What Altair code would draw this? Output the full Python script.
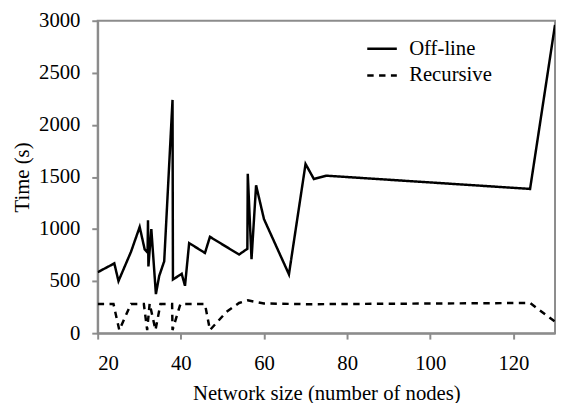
import altair as alt
import pandas as pd

# Off-line series (network size, time in s)
offline_x = [20, 24, 25, 28, 30.1, 31.3, 32.0, 32.1, 32.2, 32.9, 34.0, 34.8, 36.0, 38.0, 38.1,
             40.2, 41.0, 42.0, 45.8, 47.0, 54.0, 56.0, 56.1, 57.0, 58.1, 60.0, 66.0, 70.0,
             72.0, 75.0, 124.0, 130.0]
offline_y = [585, 670, 500, 780, 1020, 805, 775, 1085, 640, 1000, 375, 550, 690, 2240, 515,
             570, 455, 865, 770, 925, 755, 810, 1530, 710, 1420, 1095, 565, 1625,
             1480, 1512, 1385, 2960]

# Recursive series
rec_x = [20, 23.8, 25.2, 28.0, 31.1, 31.9, 32.5, 33.9, 35.1, 37.9, 38.0, 39.9, 45.8, 47.0,
         51.0, 54.0, 56.1, 58.0, 60.0, 70.6, 124.0, 130.0]
rec_y = [280, 280, 30, 280, 280, 30, 285, 30, 280, 280, 30, 280, 280, 30,
         205, 290, 315, 300, 285, 278, 290, 110]

series_names = ["Off-line", "Recursive"]
x_ticks = [20, 40, 60, 80, 100, 120]
y_ticks = [0, 500, 1000, 1500, 2000, 2500, 3000]

rows = []
for i, (x, y) in enumerate(zip(offline_x, offline_y)):
    rows.append({"x": x, "y": y, "series": series_names[0], "order": i})
for i, (x, y) in enumerate(zip(rec_x, rec_y)):
    rows.append({"x": x, "y": y, "series": series_names[1], "order": i})
df = pd.DataFrame(rows)

FONT = "Liberation Serif"
GRAY = "#8c8c8c"

chart = alt.Chart(df).mark_line(strokeWidth=2.5, color="black", clip=True).encode(
    x=alt.X("x:Q",
            scale=alt.Scale(domain=[20, 130], nice=False, zero=False),
            axis=alt.Axis(values=x_ticks, title="Network size (number of nodes)",
                          format="d", labelPadding=14, titlePadding=9)),
    y=alt.Y("y:Q",
            scale=alt.Scale(domain=[0, 3000], nice=False),
            axis=alt.Axis(values=y_ticks, title="Time (s)", format="d",
                          labelPadding=12, titlePadding=6)),
    strokeDash=alt.StrokeDash(
        "series:N",
        scale=alt.Scale(domain=series_names, range=[[1, 0], [6.5, 5.5]]),
        legend=alt.Legend(title=None, orient="none", legendX=272, legendY=12,
                          symbolType="stroke", symbolSize=900,
                          symbolStrokeWidth=2.5, symbolStrokeColor="black",
                          labelFont=FONT, labelFontSize=21, labelColor="black",
                          labelOffset=11, rowPadding=-10)),
    detail="series:N",
    order="order:Q",
).properties(
    width=464, height=317,
    autosize=alt.AutoSizeParams(type="none"),
    padding={"left": 91, "top": 10, "right": 1, "bottom": 72},
).configure(
    font=FONT
).configure_view(
    stroke=GRAY, strokeWidth=2
).configure_axis(
    grid=False,
    domainColor=GRAY, domainWidth=2,
    tickColor=GRAY, tickWidth=2, tickSize=6,
    labelFont=FONT, labelFontSize=21, labelColor="black",
    titleFont=FONT, titleFontSize=21, titleFontWeight="normal", titleColor="black",
)

chart.save("out.html", embed_options={"renderer": "svg", "actions": False})
